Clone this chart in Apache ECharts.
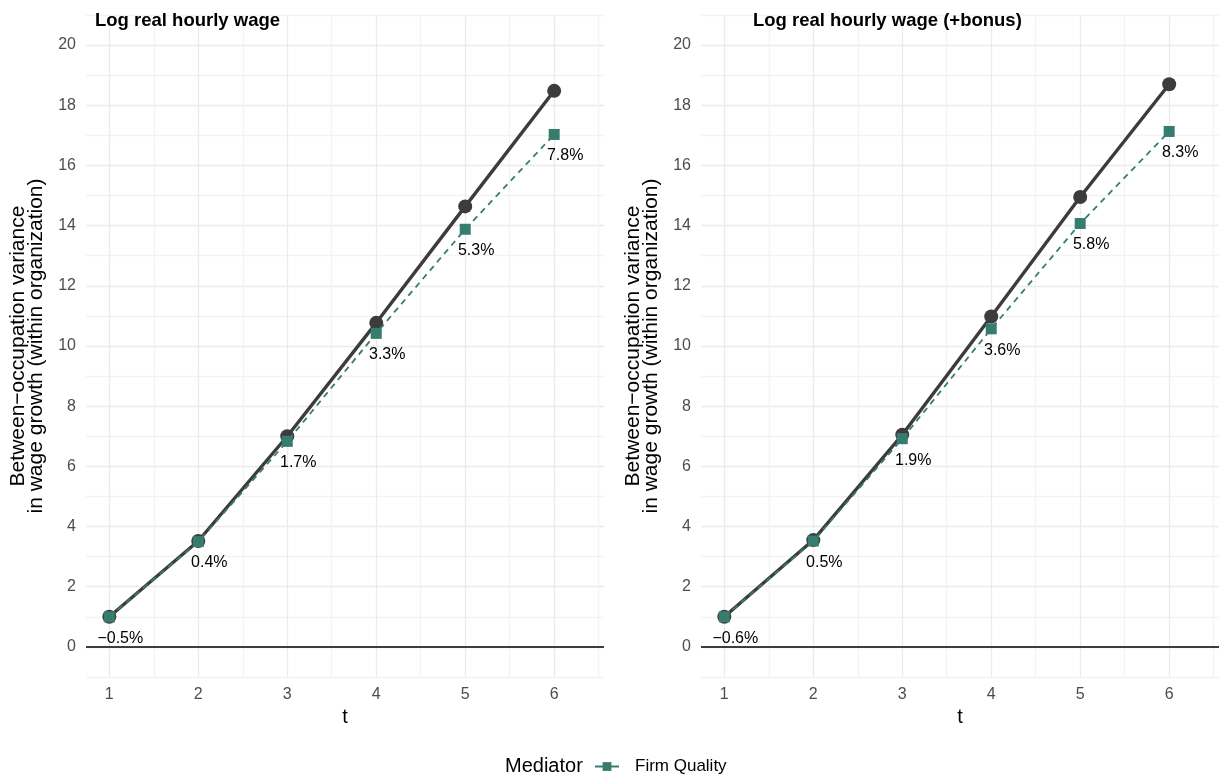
<!DOCTYPE html>
<html>
<head>
<meta charset="utf-8">
<script src="https://cdn.jsdelivr.net/npm/echarts@6/dist/echarts.min.js"></script>
<style>
  html, body { margin: 0; background: #fff; }
  #chart { width: 1222px; height: 775px; }
</style>
</head>
<body>
<div id="chart"></div>
<script>
// data
var t = [1, 2, 3, 4, 5, 6];
var xGridT = [1, 1.5, 2, 2.5, 3, 3.5, 4, 4.5, 5, 5.5, 6, 6.5];
var totalWage = [1.0, 3.52, 7.0, 10.77, 14.64, 18.48];
var firmWage = [1.0, 3.5, 6.83, 10.42, 13.88, 17.03];
var pctWage = [-0.5, 0.4, 1.7, 3.3, 5.3, 7.8];
var totalBonus = [1.0, 3.55, 7.05, 10.98, 14.95, 18.7];
var firmBonus = [1.0, 3.52, 6.92, 10.57, 14.07, 17.13];
var pctBonus = [-0.6, 0.5, 1.9, 3.6, 5.8, 8.3];
var panelTitles = ['Log real hourly wage', 'Log real hourly wage (+bonus)'];
var yTitle = 'Between\u2212occupation variance\nin wage growth (within organization)';
var mediatorName = 'Firm Quality';

var FONT = '"Liberation Sans", Arial, sans-serif';
var DARK = '#3e3b3c';
var TEAL = '#367d6f';

function pair(xs, ys) {
  return xs.map(function(x, i) { return [x, ys[i]]; });
}

function fmtPct(v) {
  var s = v.toFixed(1) + '%';
  return v < 0 ? '\u2212' + s.slice(1) : s;
}

function xAxisFor(idx) {
  return {
    type: 'value',
    gridIndex: idx,
    min: 0.738,
    max: 6.56,
    name: 't',
    nameLocation: 'middle',
    nameGap: 30,
    nameTextStyle: { fontFamily: FONT, fontSize: 20, color: '#000' },
    axisLine: { show: false },
    axisTick: { show: false, customValues: xGridT },
    axisLabel: {
      customValues: t,
      margin: 10,
      fontFamily: FONT, fontSize: 16, color: '#4d4d4d'
    },
    splitLine: {
      show: true,
      showMinLine: true,
      showMaxLine: true,
      lineStyle: { color: ['#ebebeb', '#f3f3f3'], width: 1.3 }
    }
  };
}

function yAxisFor(idx) {
  return {
    type: 'value',
    gridIndex: idx,
    min: -1,
    max: 21,
    interval: 1,
    name: yTitle,
    nameLocation: 'middle',
    nameGap: 41,
    nameRotate: 90,
    nameTextStyle: { fontFamily: FONT, fontSize: 21, lineHeight: 18, color: '#000' },
    axisLine: { show: false },
    axisTick: { show: false },
    axisLabel: {
      margin: 10,
      fontFamily: FONT, fontSize: 16, color: '#4d4d4d',
      formatter: function(v) {
        return (v >= 0 && v <= 20 && v % 2 === 0) ? String(v) : '';
      }
    },
    splitLine: {
      show: true,
      showMinLine: true,
      showMaxLine: true,
      lineStyle: { color: ['#f3f3f3', '#ebebeb'], width: 1.3 }
    }
  };
}

function seriesFor(idx, total, firm, pct) {
  return [{
    type: 'line',
    name: 'Total',
    xAxisIndex: idx,
    yAxisIndex: idx,
    data: pair(t, total),
    symbol: 'circle',
    symbolSize: 14,
    itemStyle: { color: DARK },
    lineStyle: { color: DARK, width: 3.4 },
    z: 2,
    markLine: {
      silent: true,
      symbol: 'none',
      label: { show: false },
      lineStyle: { color: '#000', width: 1.6, type: 'solid' },
      data: [{ yAxis: 0 }]
    }
  }, {
    type: 'line',
    name: mediatorName,
    xAxisIndex: idx,
    yAxisIndex: idx,
    data: pair(t, firm),
    symbol: 'rect',
    symbolSize: 11,
    itemStyle: { color: TEAL },
    lineStyle: { color: TEAL, width: 1.8, type: [6, 5] },
    z: 3,
    label: {
      show: true,
      position: 'bottom',
      distance: 3,
      offset: [11, 5],
      fontFamily: FONT, fontSize: 16, color: '#000',
      formatter: function(p) { return fmtPct(pct[p.dataIndex]); }
    }
  }];
}

var myChart = echarts.init(document.getElementById('chart'));
myChart.setOption({
  backgroundColor: '#fff',
  animation: false,
  title: [{
    text: panelTitles[0], left: 90, top: 6,
    textStyle: { fontFamily: FONT, fontSize: 18.5, fontWeight: 'bold', color: '#000' }
  }, {
    text: panelTitles[1], left: 748, top: 6,
    textStyle: { fontFamily: FONT, fontSize: 18.5, fontWeight: 'bold', color: '#000' }
  }, {
    text: 'Mediator', left: 500, top: 751,
    textStyle: { fontFamily: FONT, fontSize: 20, fontWeight: 'normal', color: '#000' }
  }],
  legend: {
    data: [mediatorName],
    left: 589,
    top: 753,
    itemWidth: 24,
    itemHeight: 11,
    lineStyle: { type: 'solid', width: 2 },
    textStyle: { fontFamily: FONT, fontSize: 17, color: '#000', padding: [0, 0, 0, 11] }
  },
  grid: [
    { left: 86, top: 15, width: 518, height: 662 },
    { left: 701, top: 15, width: 518, height: 662 }
  ],
  xAxis: [xAxisFor(0), xAxisFor(1)],
  yAxis: [yAxisFor(0), yAxisFor(1)],
  series: seriesFor(0, totalWage, firmWage, pctWage)
    .concat(seriesFor(1, totalBonus, firmBonus, pctBonus))
});
window.addEventListener('resize', function() { myChart.resize(); });
</script>
</body>
</html>
